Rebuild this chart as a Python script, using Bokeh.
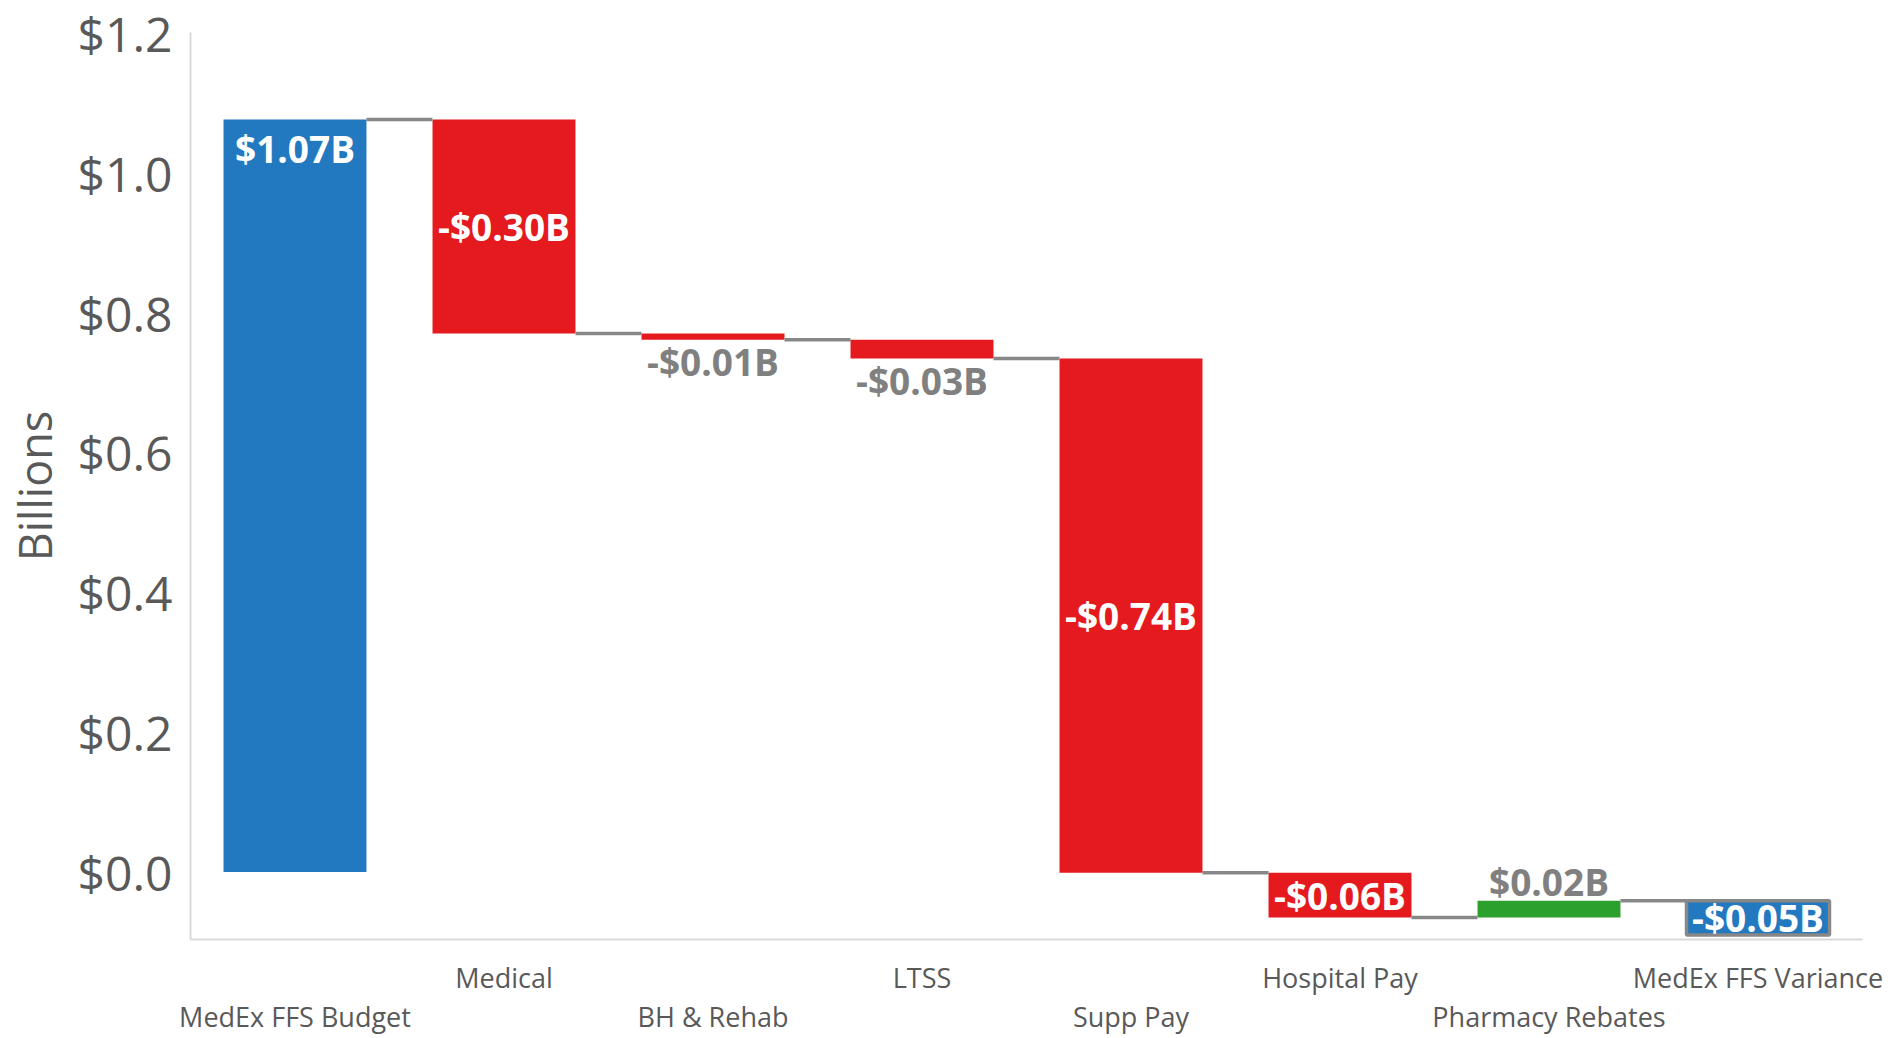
from bokeh.plotting import figure
from bokeh.models import Range1d, FixedTicker, NumeralTickFormatter, CustomJSTickFormatter
from bokeh.core.properties import value
from bokeh.embed import file_html
from bokeh.resources import INLINE

# ---------------- data ----------------
categories = ["MedEx FFS Budget", "Medical", "BH & Rehab", "LTSS", "Supp Pay",
              "Hospital Pay", "Pharmacy Rebates", "MedEx FFS Variance"]
budget = 1.077
changes = [-0.306, -0.009, -0.027, -0.736, -0.064, 0.024]
variance = -0.049
bar_labels = ["$1.07B", "-$0.30B", "-$0.01B", "-$0.03B", "-$0.74B", "-$0.06B", "$0.02B", "-$0.05B"]
y_ticks = [0.0, 0.2, 0.4, 0.6, 0.8, 1.0, 1.2]

# ---------------- styles ----------------
FONT = "Open Sans"
BLUE = "#2379bf"
RED = "#e41a1e"
GREEN = "#2ca02c"
CONN = "#878787"
LABEL_GRAY = "#808080"
AXIS_TEXT = "#595959"
AXIS_LINE = "#d9d9d9"
BAR_W = 0.684

# ---------------- waterfall geometry ----------------
xs = [i + 0.5 for i in range(len(categories))]
bottoms, tops, colors = [0.0], [budget], [BLUE]
levels = [budget]
cur = budget
for c in changes:
    nxt = cur + c
    bottoms.append(min(cur, nxt)); tops.append(max(cur, nxt))
    colors.append(RED if c < 0 else GREEN)
    cur = nxt
    levels.append(cur)
var_top = cur
var_bottom = cur + variance

p = figure(frame_width=1672, frame_height=907, output_backend="svg", toolbar_location=None,
           x_range=Range1d(0, len(categories)),
           y_range=Range1d(-0.0966, 1.2017),
           min_border_left=183, min_border_right=22, min_border_top=32, min_border_bottom=88)
p.outline_line_color = None
p.xgrid.visible = False
p.ygrid.visible = False

# bars
p.vbar(x=xs[:-1], bottom=bottoms, top=tops, width=BAR_W,
       fill_color=colors, line_color=None)
p.vbar(x=[xs[-1]], bottom=[var_bottom], top=[var_top], width=BAR_W,
       fill_color=BLUE, line_color=CONN, line_width=3.5)

# connectors
half = BAR_W / 2
p.segment(x0=[x + half for x in xs[:-1]], y0=levels,
          x1=[x - half for x in xs[1:]], y1=levels,
          line_color=CONN, line_width=3.5)

# value labels
all_vals = [budget] + changes + [variance]
all_bottoms = bottoms + [var_bottom]
all_tops = tops + [var_top]
ly, loff, lcol = [], [], []
for i, v in enumerate(all_vals):
    if i == 0:
        ly.append(all_tops[i]); loff.append(29); lcol.append("white")
    elif abs(v) >= 0.035:
        ly.append((all_tops[i] + all_bottoms[i]) / 2); loff.append(0); lcol.append("white")
    elif v < 0:
        ly.append(all_bottoms[i]); loff.append(22); lcol.append(LABEL_GRAY)
    else:
        ly.append(all_tops[i]); loff.append(-19); lcol.append(LABEL_GRAY)
p.text(x=xs, y=ly, text=bar_labels, y_offset=loff, text_color=lcol,
       text_font=value(FONT), text_font_style="bold", text_font_size="37px",
       text_align="center", text_baseline="middle")

# y axis
yax = p.yaxis[0]
yax.ticker = FixedTicker(ticks=y_ticks)
yax.formatter = NumeralTickFormatter(format="$0.0")
yax.major_label_text_font = FONT
yax.major_label_text_font_size = "48px"
yax.major_label_text_color = AXIS_TEXT
yax.major_label_standoff = 18
yax.major_tick_line_color = None
yax.minor_tick_line_color = None
yax.major_tick_out = 0
yax.major_tick_in = 0
yax.axis_line_color = AXIS_LINE
yax.axis_line_width = 2
yax.axis_label = "Billions"
yax.axis_label_text_font = FONT
yax.axis_label_text_font_size = "45px"
yax.axis_label_text_font_style = "normal"
yax.axis_label_text_color = AXIS_TEXT
yax.axis_label_standoff = 10

# x axis: staggered category labels (even positions on the lower row)
xax = p.xaxis[0]
xax.ticker = FixedTicker(ticks=xs)
xax.formatter = CustomJSTickFormatter(
    args=dict(labels=categories),
    code="""
    const i = Math.round(tick - 0.5);
    return (i % 2 == 0 ? "\\n" : "") + labels[i];
    """)
xax.major_label_text_font = FONT
xax.major_label_text_font_size = "27px"
xax.major_label_text_color = AXIS_TEXT
xax.major_label_text_line_height = 1.07
xax.major_label_standoff = 19
xax.major_tick_line_color = None
xax.minor_tick_line_color = None
xax.major_tick_out = 0
xax.major_tick_in = 0
xax.major_label_orientation = "horizontal"
xax.axis_line_color = AXIS_LINE
xax.axis_line_width = 2

open("out.html", "w").write(file_html(p, INLINE))
